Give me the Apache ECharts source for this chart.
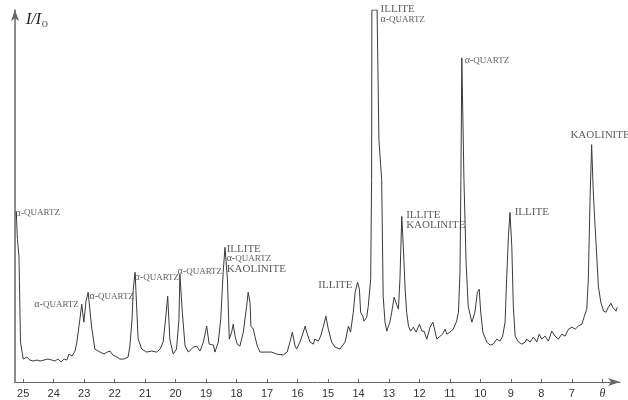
<!DOCTYPE html>
<html>
<head>
<meta charset="utf-8">
<script src="https://cdn.jsdelivr.net/npm/echarts@6/dist/echarts.min.js"></script>
<style>
  html, body { margin: 0; padding: 0; background: #fff; }
  #chart { width: 628px; height: 400px; }
</style>
</head>
<body>
<div id="chart"></div>
<script>
// Diffraction angle θ (degrees) of each sample point, scanned from high to low angle
const thetaValues = [
  25.23, 25.19, 25.14, 25.09, 25.00, 24.88, 24.78, 24.68, 24.55, 24.45, 24.32, 24.19, 24.06, 23.96, 23.86,
  23.76, 23.66, 23.57, 23.50, 23.40, 23.30, 23.24, 23.14, 23.08, 23.01, 22.94, 22.87, 22.76, 22.65, 22.48,
  22.35, 22.25, 22.15, 22.06, 21.92, 21.83, 21.70, 21.56, 21.50, 21.43, 21.39, 21.33, 21.28, 21.23, 21.11,
  20.95, 20.79, 20.62, 20.51, 20.41, 20.33, 20.26, 20.19, 20.08, 19.97, 19.89, 19.86, 19.78, 19.69, 19.58,
  19.42, 19.31, 19.20, 19.09, 18.98, 18.90, 18.76, 18.71, 18.60, 18.52, 18.44, 18.38, 18.30, 18.24, 18.16,
  18.11, 18.05, 17.98, 17.89, 17.78, 17.67, 17.62, 17.56, 17.53, 17.45, 17.40, 17.32, 17.23, 17.01, 16.85,
  16.68, 16.47, 16.41, 16.34, 16.25, 16.17, 16.08, 16.03, 15.92, 15.81, 15.75, 15.70, 15.59, 15.48, 15.43,
  15.32, 15.24, 15.15, 15.07, 14.99, 14.88, 14.77, 14.61, 14.55, 14.44, 14.33, 14.26, 14.17, 14.11, 14.06,
  14.03, 13.97, 13.93, 13.86, 13.82, 13.73, 13.68, 13.60, 13.57, 13.56, 13.39, 13.33, 13.24, 13.19, 13.13,
  13.07, 13.02, 12.97, 12.91, 12.83, 12.75, 12.69, 12.64, 12.58, 12.53, 12.47, 12.42, 12.36, 12.29, 12.20,
  12.11, 12.00, 11.92, 11.85, 11.76, 11.65, 11.56, 11.49, 11.43, 11.32, 11.24, 11.16, 11.10, 11.00, 10.89,
  10.78, 10.72, 10.67, 10.64, 10.61, 10.54, 10.47, 10.40, 10.28, 10.23, 10.18, 10.10, 10.04, 9.99, 9.92,
  9.79, 9.68, 9.58, 9.46, 9.36, 9.27, 9.19, 9.14, 9.08, 9.03, 8.97, 8.92, 8.86, 8.75, 8.64,
  8.53, 8.48, 8.37, 8.26, 8.15, 8.07, 7.99, 7.88, 7.77, 7.66, 7.55, 7.44, 7.33, 7.22, 7.11,
  7.00, 6.89, 6.79, 6.67, 6.59, 6.51, 6.46, 6.40, 6.35, 6.30, 6.25, 6.20, 6.13, 6.05, 5.96,
  5.88, 5.80, 5.72, 5.66, 5.61, 5.55, 5.51
];

// Relative intensity I/Io at each angle (arbitrary units)
const intensityValues = [
  171, 143, 126, 40, 23, 25, 22, 21, 22, 21, 22, 23, 22, 21, 23,
  20, 23, 22, 28, 26, 31, 40, 63, 78, 60, 81, 90, 56, 33, 30,
  28, 30, 31, 27, 25, 23, 23, 25, 36, 63, 93, 110, 76, 43, 33,
  30, 31, 30, 33, 40, 63, 86, 43, 28, 33, 63, 108, 70, 36, 30,
  35, 36, 31, 40, 56, 38, 37, 30, 40, 63, 110, 135, 103, 43, 50,
  58, 46, 38, 36, 50, 76, 90, 80, 56, 53, 46, 36, 30, 30, 30,
  28, 27, 25, 30, 40, 50, 36, 33, 40, 50, 56, 50, 40, 38, 43,
  41, 46, 56, 66, 53, 40, 35, 33, 31, 40, 56, 50, 70, 90, 91,
  100, 93, 70, 66, 61, 65, 76, 103, 203, 373, 373, 243, 203, 86, 60,
  51, 56, 60, 70, 85, 78, 73, 103, 166, 136, 93, 70, 56, 51, 55,
  50, 58, 51, 51, 43, 55, 60, 51, 43, 46, 48, 53, 48, 50, 53,
  61, 70, 110, 203, 325, 203, 120, 76, 60, 58, 70, 90, 93, 70, 50,
  40, 37, 38, 43, 41, 46, 60, 103, 146, 170, 136, 76, 46, 40, 38,
  40, 43, 40, 45, 40, 48, 43, 46, 41, 51, 46, 43, 48, 46, 53,
  55, 53, 56, 58, 66, 73, 103, 186, 238, 193, 163, 136, 96, 80, 71,
  70, 75, 79, 75, 77, 71, 75
];

// Phase identifications: angle and intensity of each label's anchor, and its text lines
const phaseTheta = [25.24, 24.62, 22.81, 21.33, 19.92, 18.31, 14.18, 13.26, 10.50, 12.42, 8.86, 7.03];
const phaseLevel = [174, 82, 90, 109, 115, 138, 102, 378, 327, 172, 175, 252];
const phaseLines = [
  ['α-QUARTZ'],
  ['α-QUARTZ'],
  ['α-QUARTZ'],
  ['α-QUARTZ'],
  ['α-QUARTZ'],
  ['ILLITE', 'α-QUARTZ', 'KAOLINITE'],
  ['ILLITE'],
  ['ILLITE', 'α-QUARTZ'],
  ['α-QUARTZ'],
  ['ILLITE', 'KAOLINITE'],
  ['ILLITE'],
  ['KAOLINITE']
];
const phaseAlign = ['left', 'left', 'left', 'left', 'left', 'left', 'right', 'left', 'left', 'left', 'left', 'left'];

// Angle tick labels; the last position carries the axis symbol
const angleTicks = [25, 24, 23, 22, 21, 20, 19, 18, 17, 16, 15, 14, 13, 12, 11, 10, 9, 8, 7, 6];

const pattern = thetaValues.map((t, i) => [t, intensityValues[i]]);

function richLine(line) {
  if (line.indexOf('α-') === 0) {
    return '{alpha|α-}{small|' + line.slice(2) + '}';
  }
  return '{big|' + line + '}';
}

const phaseData = phaseTheta.map((t, i) => ({
  value: [t, phaseLevel[i]],
  label: {
    align: phaseAlign[i],
    formatter: phaseLines[i].map(richLine).join('\n')
  }
}));

const serif = '"Liberation Serif", "Times New Roman", serif';
const ink = '#333';
const axisGrey = '#666';

const chart = echarts.init(document.getElementById('chart'), null, { renderer: 'canvas' });

chart.setOption({
  animation: false,
  backgroundColor: '#fff',
  grid: { left: 15, right: 8, top: 10, bottom: 17, containLabel: false },
  title: {
    text: '{i|I/I}{o|O}',
    left: 21,
    top: 5,
    textStyle: {
      fontWeight: 'normal',
      rich: {
        i: { fontFamily: serif, fontStyle: 'italic', fontWeight: 'normal', fontSize: 16, color: '#222', lineHeight: 20 },
        o: { fontFamily: serif, fontWeight: 'normal', fontSize: 8, color: '#222', padding: [9, 0, 0, 1], lineHeight: 20 }
      }
    }
  },
  xAxis: {
    type: 'value',
    inverse: true,
    min: 5.42,
    max: 25.27,
    splitLine: { show: false },
    axisLine: {
      show: true,
      onZero: false,
      lineStyle: { color: axisGrey, width: 1 },
      symbol: ['none', 'arrow'],
      symbolSize: [6, 12]
    },
    axisTick: {
      show: true,
      inside: true,
      length: 3,
      customValues: angleTicks,
      lineStyle: { color: axisGrey }
    },
    axisLabel: {
      customValues: angleTicks,
      margin: 6,
      fontFamily: '"Liberation Sans", Arial, sans-serif',
      fontSize: 11,
      color: ink,
      formatter: v => (v === 6 ? '{th|θ}' : String(v)),
      rich: {
        th: { fontFamily: serif, fontStyle: 'italic', fontSize: 12, color: ink }
      }
    }
  },
  yAxis: {
    type: 'value',
    min: 0,
    max: 373,
    splitLine: { show: false },
    axisTick: { show: false },
    axisLabel: { show: false },
    axisLine: {
      show: true,
      onZero: false,
      lineStyle: { color: axisGrey, width: 1.5 },
      symbol: ['none', 'arrow'],
      symbolSize: [6, 11]
    }
  },
  series: [
    {
      type: 'line',
      data: pattern,
      showSymbol: false,
      symbol: 'none',
      smooth: false,
      lineStyle: { color: '#3a3a3a', width: 1 },
      silent: true,
      z: 3
    },
    {
      type: 'scatter',
      data: phaseData,
      symbol: 'rect',
      symbolSize: 1,
      itemStyle: { color: 'rgba(0,0,0,0)' },
      clip: false,
      silent: true,
      z: 4,
      label: {
        show: true,
        position: [0, 0],
        verticalAlign: 'top',
        rich: {
          big: { fontFamily: serif, fontSize: 11, color: ink, lineHeight: 10 },
          alpha: { fontFamily: serif, fontSize: 10, color: ink, lineHeight: 10 },
          small: { fontFamily: serif, fontSize: 9, color: ink, lineHeight: 10 }
        }
      }
    }
  ]
});
</script>
</body>
</html>
